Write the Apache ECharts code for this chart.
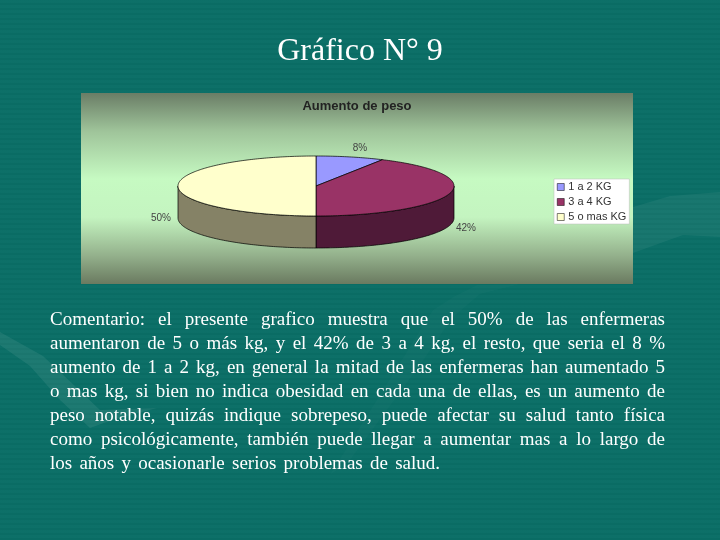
<!DOCTYPE html>
<html><head><meta charset="utf-8">
<style>
html,body{margin:0;padding:0;width:720px;height:540px;overflow:hidden;background:#0a6e66;}
body{background-image:repeating-linear-gradient(180deg,rgba(255,255,255,0.012) 0 3px,rgba(0,0,0,0.02) 3px 5px);}
#c{width:720px;height:540px;}
</style>
<script src="https://cdn.jsdelivr.net/npm/echarts@6/dist/echarts.min.js"></script>
</head><body><div id="c"></div>
<script>
const categories = ['1 a 2 KG', '3 a 4 KG', '5 o mas KG'];
const values = [8, 42, 50];
const percentLabels = ['8%', '42%', '50%'];
const slideTitle = 'Gráfico N° 9';
const chartTitle = 'Aumento de peso';
const commentLines = [
  'Comentario: el presente grafico muestra que el 50% de las enfermeras',
  'aumentaron de 5 o más kg, y el 42% de 3 a 4 kg, el resto, que seria el 8 %',
  'aumento de 1 a 2 kg, en general la mitad de las enfermeras han aumentado 5',
  'o mas kg, si bien no indica obesidad en cada una de ellas, es un aumento de',
  'peso notable, quizás indique sobrepeso, puede afectar su salud tanto física',
  'como psicológicamente, también puede llegar a aumentar mas a lo largo de',
  'los años y ocasionarle serios problemas de salud.'
];

const topColors = ['#9999FF', '#993366', '#FFFFCC'];
const wallColors = ['#5C5C99', '#4F1A38', '#858266'];
const labelAnchors = [[360, 148], [466, 228], [161, 218]];
const pie = {cx: 316, cy: 186, rx: 138, ry: 30, depth: 32};
const total = values.reduce((a, b) => a + b, 0);

function pt(deg, dy) {
  const r = deg * Math.PI / 180;
  return [pie.cx + pie.rx * Math.sin(r), pie.cy - pie.ry * Math.cos(r) + (dy || 0)];
}
function arc(a0, a1, dy) {
  const out = [];
  const n = Math.max(2, Math.ceil(a1 - a0));
  for (let i = 0; i <= n; i++) out.push(pt(a0 + (a1 - a0) * i / n, dy));
  return out;
}
function sliceRender(idx) {
  return function () {
    let before = 0;
    for (let i = 0; i < idx; i++) before += values[i];
    const a0 = before / total * 360, a1 = (before + values[idx]) / total * 360;
    const children = [];
    const w0 = Math.max(a0, 90), w1 = Math.min(a1, 270);
    if (w1 > w0) {
      children.push({type: 'polygon', shape: {points: arc(w0, w1, 0).concat(arc(w0, w1, pie.depth).reverse())},
        style: {fill: wallColors[idx], stroke: '#000', lineWidth: 0.7}});
    }
    children.push({type: 'polygon', shape: {points: [[pie.cx, pie.cy]].concat(arc(a0, a1, 0))},
      style: {fill: topColors[idx], stroke: '#000', lineWidth: 0.7}});
    children.push({type: 'text', style: {text: percentLabels[idx], x: labelAnchors[idx][0], y: labelAnchors[idx][1],
      align: 'center', verticalAlign: 'middle', fontFamily: 'Liberation Sans', fontSize: 10, fill: '#444'}});
    return {type: 'group', children};
  };
}

/* justified comment text: each word placed by measuring the line */
const measure = document.createElement('canvas').getContext('2d');
const commentFont = '19px "Liberation Serif"';
measure.font = commentFont;
function commentGraphics() {
  const out = [], left = 50, right = 665, lastRight = 440, top = 320, lh = 24;
  commentLines.forEach((line, li) => {
    const words = line.split(' ');
    const widths = words.map(w => measure.measureText(w).width);
    const sum = widths.reduce((a, b) => a + b, 0);
    const end = li === commentLines.length - 1 ? lastRight : right;
    const gap = (end - left - sum) / (words.length - 1);
    let x = left;
    words.forEach((w, i) => {
      out.push({type: 'text', silent: true, style: {text: w, x, y: top + li * lh, verticalAlign: 'middle',
        font: commentFont, fill: '#fff'}});
      x += widths[i] + gap;
    });
  });
  return out;
}

const swooshes = [
  {type: 'polygon', shape: {points: [[0,332],[43,356],[77,388],[100,410],[157,408],[112,420],[90,428],[60,400],[30,366],[0,345]]}, style: {fill: 'rgba(255,255,255,0.07)'}},
  {type: 'polygon', shape: {points: [[433,310],[455,296],[477,285],[520,284],[480,294],[452,318],[420,365],[350,460],[330,475],[380,395]]}, style: {fill: 'rgba(255,255,255,0.02)'}},
  {type: 'polygon', shape: {points: [[633,207],[670,196],[720,192],[720,237],[683,235],[633,253]]}, style: {fill: 'rgba(255,255,255,0.05)'}}
];

const chart = echarts.init(document.getElementById('c'), null, {renderer: 'canvas'});
chart.setOption({
  animation: false,
  backgroundColor: 'transparent',
  legend: {
    orient: 'vertical', left: 554, top: 179, itemWidth: 7, itemHeight: 7, itemGap: 3,
    padding: [2, 3, 1, 3], backgroundColor: '#fff', borderColor: '#bbb', borderWidth: 0.5,
    selectedMode: false, icon: 'rect',
    itemStyle: {borderColor: '#000', borderWidth: 0.5},
    textStyle: {fontFamily: 'Liberation Sans', fontSize: 11, lineHeight: 12, color: '#333', padding: [0, 0, 0, -1]},
    data: categories
  },
  graphic: {elements: [
    ...swooshes,
    {type: 'rect', z: -1, shape: {x: 81, y: 93, width: 552, height: 191}, style: {fill: {
      type: 'linear', x: 0, y: 0, x2: 0, y2: 1,
      colorStops: [{offset: 0, color: '#6A7D66'}, {offset: 0.2, color: '#9FC49A'}, {offset: 0.45, color: '#C6FAC2'},
                   {offset: 0.65, color: '#C4F4C0'}, {offset: 0.85, color: '#94B18C'}, {offset: 1, color: '#6A7A60'}]
    }}},
    {type: 'text', style: {text: chartTitle, x: 357, y: 106, align: 'center', verticalAlign: 'middle',
      fontFamily: 'Liberation Sans', fontWeight: 'bold', fontSize: 13, fill: '#222'}},
    {type: 'text', style: {text: slideTitle, x: 360, y: 52, align: 'center', verticalAlign: 'middle',
      fontFamily: 'Liberation Serif', fontSize: 32, fill: '#fff'}},
    ...commentGraphics()
  ]},
  series: categories.map((name, i) => ({
    type: 'custom', name, coordinateSystem: 'none', z: 3,
    itemStyle: {color: topColors[i]},
    renderItem: sliceRender(i),
    data: [values[i]]
  }))
});
</script></body></html>
